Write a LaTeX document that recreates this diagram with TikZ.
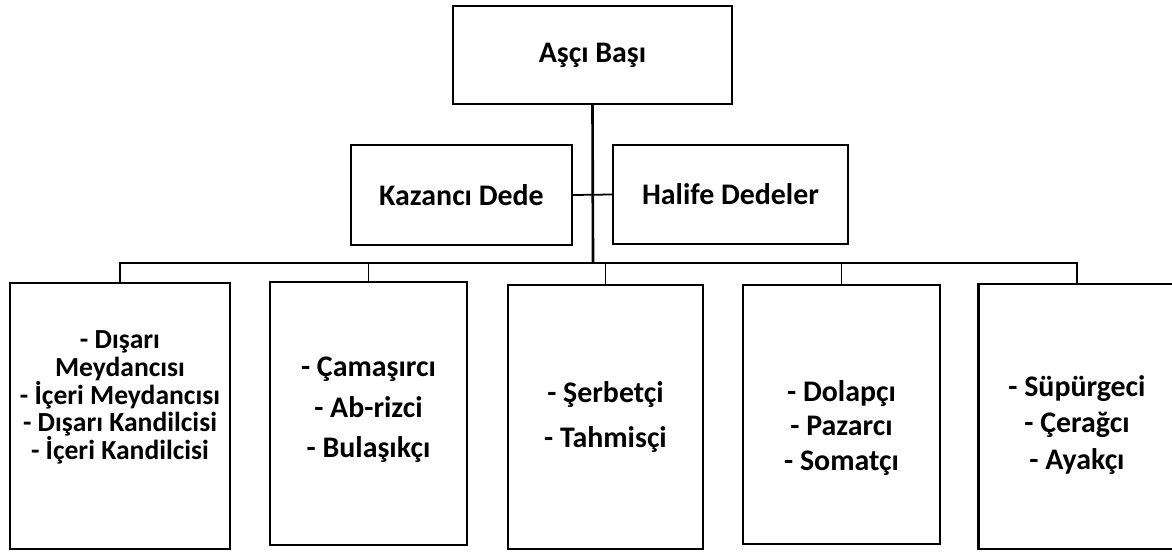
\documentclass[tikz,border=0pt]{standalone}
\usepackage{fontspec}
\setmainfont{Carlito}

\begin{document}
\begin{tikzpicture}[
  kutu/.style={draw, line width=1.3pt, inner sep=0pt},
  yazi/.style={align=center, font=\bfseries\fontsize{17}{#1}\selectfont},
  hat/.style={line width=1pt}
]
\useasboundingbox (0,0) rectangle (23.44,-11.02);
%Asci Basi
\node[kutu, yazi=20, minimum width=5.58cm, minimum height=1.96cm] (asci) at (11.85,-1.10) {Aşçı Başı};
%Dedeler
\node[kutu, yazi=20, minimum width=4.42cm, minimum height=2.0cm] (kazanci) at (9.23,-3.90) {Kazancı Dede};
\node[kutu, yazi=20, minimum width=4.70cm, minimum height=1.98cm] (halife) at (14.61,-3.89) {Halife Dedeler};
%Alt kutular
\node[kutu, minimum width=4.40cm, minimum height=5.32cm] (b1) at (2.40,-8.32) {};
\node[kutu, minimum width=3.94cm, minimum height=5.26cm] (b2) at (7.37,-8.27) {};
\node[kutu, minimum width=3.90cm, minimum height=5.28cm] (b3) at (12.11,-8.34) {};
\node[kutu, minimum width=3.94cm, minimum height=5.18cm] (b4) at (16.83,-8.29) {};
\node[kutu, minimum width=3.94cm, minimum height=5.30cm] (b5) at (21.54,-8.33) {};
%Yazilar
\node[align=center, font=\bfseries\fontsize{15.7}{15.8}\selectfont] (t1) at (2.40,-7.95) {- Dışarı\\Meydancısı\\- İçeri Meydancısı\\- Dışarı Kandilcisi\\- İçeri Kandilcisi};
\node[yazi=23] (t2) at (7.37,-8.20) {- Çamaşırcı\\- Ab-rizci\\- Bulaşıkçı};
\node[yazi=25.5] (t3) at (12.11,-8.34) {- Şerbetçi\\- Tahmisçi};
\node[yazi=19.8] (t4) at (16.83,-8.56) {- Dolapçı\\- Pazarcı\\- Somatçı};
\node[yazi=21] (t5) at (21.54,-8.50) {- Süpürgeci\\- Çerağcı\\- Ayakçı};
%Baglantilar
\coordinate (bus) at (11.86,-5.26);
\draw[line width=1.5pt] (asci.south) -- (bus);
\draw[hat] (kazanci.east) -- (halife.west);
\draw[hat] (b1.north) |- (bus) -| (b5.north);
\draw[hat] (b2.north) -- (b2.north |- bus);
\draw[hat] (b3.north) -- (b3.north |- bus);
\draw[hat] (b4.north) -- (b4.north |- bus);
\end{tikzpicture}
\end{document}
